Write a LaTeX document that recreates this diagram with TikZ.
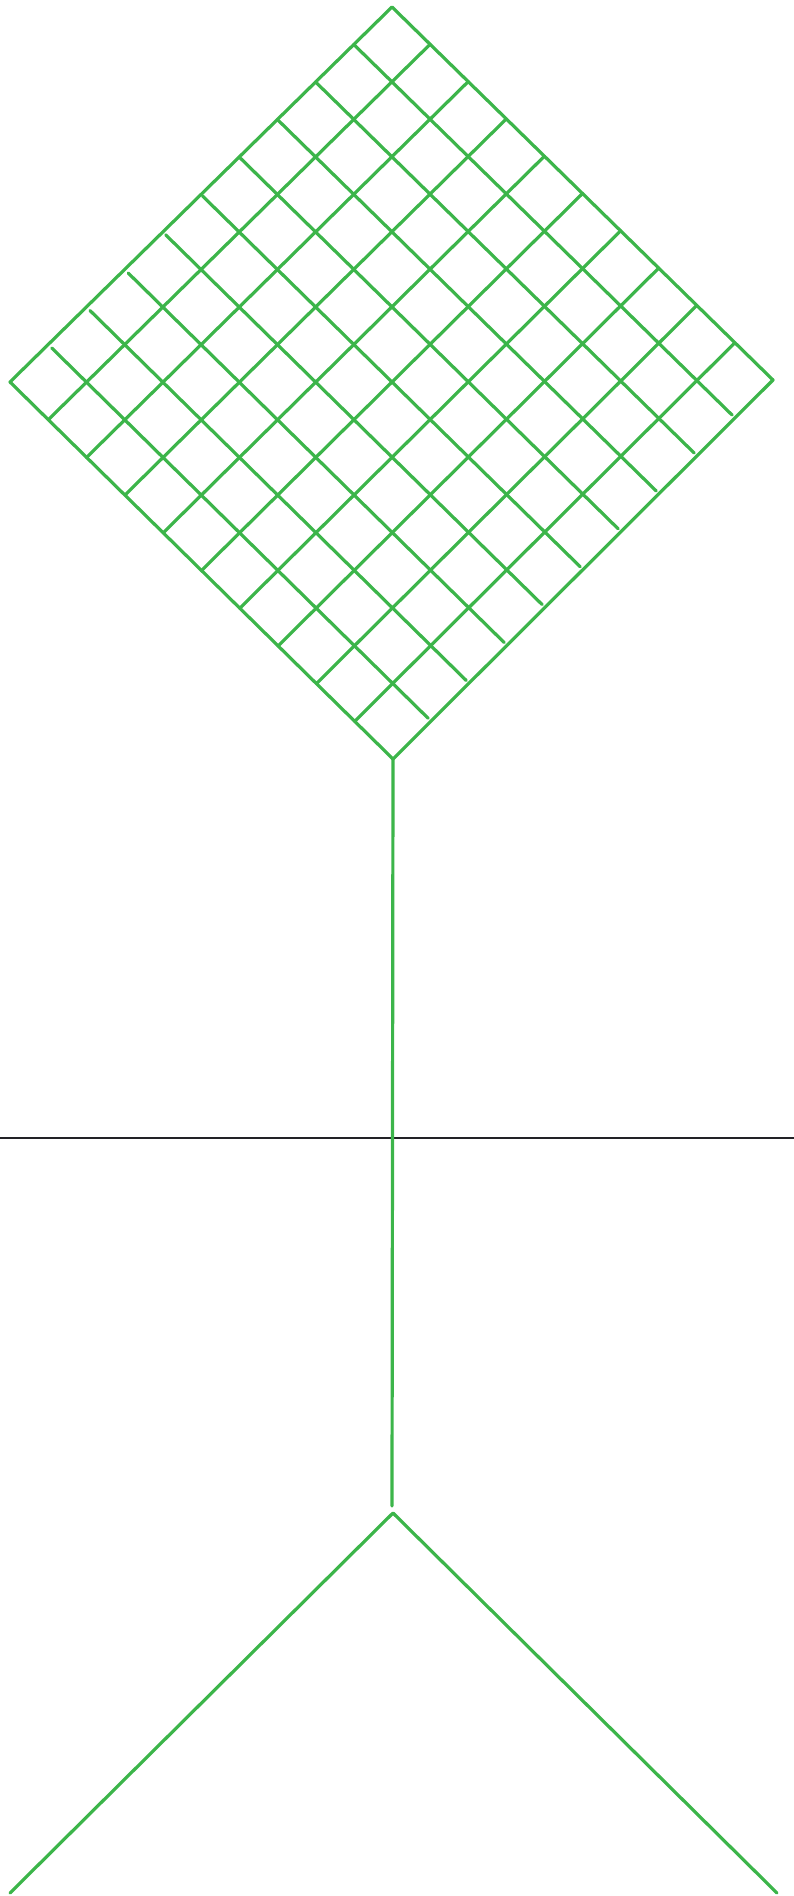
\documentclass[tikz,border=0pt]{standalone}
\usepackage{xcolor}
\definecolor{leafgreen}{RGB}{60,181,74}
\definecolor{dark}{RGB}{34,34,38}
\usepackage{tikz}
\usetikzlibrary{
    arrows.meta,
    positioning,
    calc
}

\begin{document}
\begin{tikzpicture}[x=1pt, y=-1pt,
        racket/.style={leafgreen, line width=3.2pt, line cap=round, line join=round},
        ground/.style={dark, line width=1.8pt}]
        \useasboundingbox (0, 0) rectangle (794, 1896);
        \coordinate (top) at (392, 7);
        \coordinate (left) at (10, 382);
        \coordinate (right) at (773, 380);
        \coordinate (bottom) at (393, 759);
        \coordinate (stemend) at (392, 1506);
        \coordinate (apex) at (393, 1513);
        \coordinate (footL) at (10, 1893);
        \coordinate (footR) at (777, 1893);
        \coordinate (groundL) at (0, 1138);
        \coordinate (groundR) at (794, 1138);
        \draw[racket] (top) -- (right) -- (bottom) -- (left) -- cycle;
        \foreach \i/\gap in {1/0,2/0,3/0,4/1,5/2,6/4,7/5,8/5,9/5} {
            \coordinate (netA) at ($(top)!\i/10!(left)$);
            \coordinate (netB) at ($(right)!\i/10!(bottom)$);
            \draw[racket] ($(netA)!\gap pt!(netB)$) -- ($(netB)!4pt!(netA)$);
            \draw[racket] ($(top)!\i/10!(right)$) -- ($(left)!\i/10!(bottom)$);
        }
        \draw[ground] (groundL) -- (groundR);
        \draw[racket] (bottom) -- (stemend);
        \draw[racket] (footL) -- (apex) -- (footR);
    \end{tikzpicture}
\end{document}
